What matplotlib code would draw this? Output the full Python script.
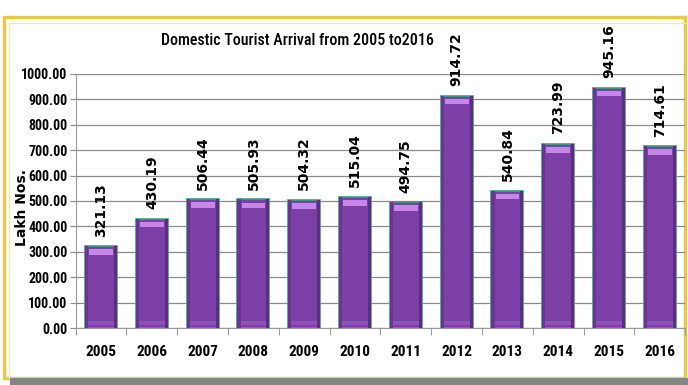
import numpy as np
import matplotlib.pyplot as plt
from matplotlib.patches import Rectangle
from matplotlib import font_manager

years = ['2005', '2006', '2007', '2008', '2009', '2010',
         '2011', '2012', '2013', '2014', '2015', '2016']
arrivals = [321.13, 430.19, 506.44, 505.93, 504.32, 515.04,
            494.75, 914.72, 540.84, 723.99, 945.16, 714.61]
yticks = [0, 100, 200, 300, 400, 500, 600, 700, 800, 900, 1000]

# pick a narrow face if one is installed
installed = {f.name for f in font_manager.fontManager.ttflist}
narrow, scale = 'Liberation Sans', 0.85
for name in ['Liberation Sans Narrow', 'Arial Narrow', 'Roboto Condensed', 'Open Sans Condensed']:
    if name in installed:
        narrow, scale = name, 1.0
        break

fig = plt.figure(figsize=(6.88, 3.85), dpi=100)

# frame around the chart
fig.add_artist(Rectangle((4/688, 0.018), 0.99, 0.955 - 0.018, transform=fig.transFigure,
                         facecolor='white', edgecolor='#e8c84a', lw=2.5, zorder=-3))
fig.add_artist(Rectangle((9/688, 0.018), 0.99, 0.94 - 0.018, transform=fig.transFigure,
                         facecolor='none', edgecolor='#f5e7a8', lw=1.0, zorder=-2))
fig.add_artist(Rectangle((10/688, 0), 1, 0.018, transform=fig.transFigure,
                         facecolor='#858585', edgecolor='none', zorder=-1))

ax = fig.add_axes([0.110, 0.148, 0.886, 0.660])
ax.patch.set_alpha(0)
x = np.arange(len(years))
w = 0.63
vals = np.array(arrivals)

ax.bar(x, vals, width=w, color='#7b3fa6', edgecolor='#3c9e88', linewidth=1.2, zorder=3)
# darker sides and bottom bevel
ax.bar(x - w/2 + 0.03, vals, width=0.06, color='#6a3394', linewidth=0, zorder=4)
ax.bar(x + w/2 - 0.03, vals, width=0.06, color='#5e2c86', linewidth=0, zorder=4)
ax.bar(x, 18, bottom=10, width=w - 0.12, color='#8d52b8', linewidth=0, zorder=4)
# top highlight
ax.bar(x, 22, bottom=vals - 34, width=w - 0.16, color='#c785e6', linewidth=0, zorder=4)

for xi, v in zip(x, vals):
    ax.text(xi, v + 38, f'{v:.2f}', rotation=90, ha='center', va='bottom',
            fontsize=10, fontweight='bold', color='black', clip_on=False)

ax.set_ylim(0, 1000)
ax.set_xlim(-0.5, len(years) - 0.5)
ax.set_yticks(yticks)
ax.set_yticklabels([f'{t:.2f}' for t in yticks], family=narrow,
                   fontsize=10 * scale, fontweight='bold')
ax.set_xticks(x)
ax.set_xticklabels(years, family=narrow, fontsize=11 * scale, fontweight='bold')
ax.set_xticks(np.arange(len(years) + 1) - 0.5, minor=True)
ax.tick_params(axis='x', which='major', length=0, pad=12)
ax.tick_params(axis='x', which='minor', length=5, color='#888888')
ax.tick_params(axis='y', length=4, color='#888888', pad=2)
ax.grid(axis='y', color='#8a8a8a', lw=0.9, zorder=0)
for s in ['top', 'right']:
    ax.spines[s].set_visible(False)
ax.spines['left'].set_color('#999999')
ax.spines['bottom'].set_color('#999999')

fig.text(22/688, 1 - 208/385, 'Lakh Nos.', rotation=90, ha='center', va='center',
         fontsize=10, fontweight='bold')
fig.text(0.432, 0.896, 'Domestic Tourist Arrival from 2005 to2016', ha='center', va='center',
         family=narrow, fontsize=11.5 * scale, fontweight='medium')

fig.savefig('out.png', dpi=100)
